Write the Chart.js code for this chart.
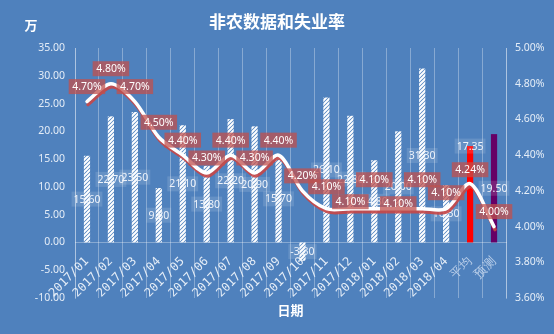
<!DOCTYPE html>
<html>
<head>
<meta charset="utf-8">
<title>非农数据和失业率</title>
<script src="https://cdn.jsdelivr.net/npm/chart.js@4.4.1/dist/chart.umd.min.js"></script>
<style>
  html, body { margin: 0; padding: 0; background: #4f81bd; }
  #wrap { width: 554px; height: 334px; }
</style>
</head>
<body>
<div id="wrap"><canvas id="nfp_chart" width="554" height="334"></canvas></div>
<script>
// months plus the two summary columns
const months = ['2017/01', '2017/02', '2017/03', '2017/04', '2017/05', '2017/06',
  '2017/07', '2017/08', '2017/09', '2017/10', '2017/11', '2017/12',
  '2018/01', '2018/02', '2018/03', '2018/04', '平均', '预测'];

// non-farm payrolls, 万
const payrolls = [15.60, 22.70, 23.50, 9.80, 21.10, 13.80, 22.20, 20.90, 15.70, -3.30,
  26.10, 22.80, 14.80, 20.00, 31.30, 10.30, 17.35, 19.50];

// unemployment rate, %
const unemployment = [4.70, 4.80, 4.70, 4.50, 4.40, 4.30, 4.40, 4.30, 4.40, 4.20,
  4.10, 4.10, 4.10, 4.10, 4.10, 4.10, 4.24, 4.00];

// left / right axis ranges
const payrollTicks = { min: -10, max: 35, step: 5 };
const rateTicks = { min: 3.6, max: 5.0, step: 0.2 };

// how far (px) each rate label sits above its point, staggered where they crowd
const rateLabelLift = [15, 15, 15, 15, 15, 15, 15, 15, 15, 15, 22, 7, 29, 5, 29, 16, 14, 15];

// columns whose value label sits on the bar top instead of the middle
const labelAtTop = ['平均'];

const FONT = '"Noto Sans", "Noto Sans CJK SC", sans-serif';
const CJK = '"Noto Sans CJK SC", "Noto Sans", sans-serif';
const GRID = 'rgba(255, 255, 255, 0.32)';
const TICK = 'rgba(236, 242, 250, 0.95)';

function hatch() {
  // white "////" stripes on a transparent tile
  const c = document.createElement('canvas');
  c.width = 4; c.height = 4;
  const g = c.getContext('2d');
  g.strokeStyle = '#ffffff';
  g.lineWidth = 2;
  g.beginPath();
  g.moveTo(-1, 5); g.lineTo(5, -1);
  g.moveTo(-1, 1); g.lineTo(1, -1);
  g.moveTo(3, 5); g.lineTo(5, 3);
  g.stroke();
  return g.createPattern(c, 'repeat');
}

const ctx = document.getElementById('nfp_chart').getContext('2d');
const stripes = hatch();
const barFill = months.map((m, i) => i === 16 ? '#ff0000' : (i === 17 ? '#660066' : stripes));

function box(g, text, cx, cy, pad, fill, color) {
  g.font = '10.5px ' + FONT;
  const w = g.measureText(text).width + pad * 2;
  const h = 15;
  g.fillStyle = fill;
  g.fillRect(cx - w / 2, cy - h / 2, w, h);
  g.fillStyle = color;
  g.textAlign = 'center';
  g.textBaseline = 'middle';
  g.fillText(text, cx, cy + 0.5);
}

const decorations = {
  id: 'decorations',
  beforeDatasetDraw(chart, args) {
    if (args.index === 1) {
      // reddish drop shadow under the rate line
      chart.ctx.save();
      chart.ctx.shadowColor = 'rgba(200, 70, 70, 0.9)';
      chart.ctx.shadowOffsetX = 1;
      chart.ctx.shadowOffsetY = 3;
      chart.ctx.shadowBlur = 0.5;
    }
  },
  afterDatasetDraw(chart, args) {
    const g = chart.ctx;
    if (args.index === 1) {
      g.restore();
      return;
    }
    // payroll value labels, centred on each bar
    g.save();
    args.meta.data.forEach((bar, i) => {
      const cy = labelAtTop.includes(months[i]) ? bar.y : (bar.y + bar.base) / 2;
      box(g, payrolls[i].toFixed(2), bar.x, cy, 2, 'rgba(255, 255, 255, 0.13)', '#eef3fa');
    });
    g.restore();
  },
  afterDatasetsDraw(chart) {
    const g = chart.ctx;
    const meta = chart.getDatasetMeta(1);
    g.save();
    meta.data.forEach((pt, i) => {
      box(g, unemployment[i].toFixed(2) + '%', pt.x, pt.y - rateLabelLift[i], 3.5, 'rgba(192, 80, 77, 0.75)', '#ffffff');
    });
    g.restore();
  },
  afterDraw(chart) {
    const g = chart.ctx;
    const area = chart.chartArea;
    g.save();
    g.fillStyle = '#ffffff';
    g.textAlign = 'center';
    g.textBaseline = 'middle';
    g.font = 'bold 17px ' + CJK;
    g.fillText('非农数据和失业率', 277, 22);
    g.font = 'bold 13px ' + CJK;
    g.fillText('万', 31, 25);
    g.fillText('日期', (area.left + area.right) / 2, 310);
    g.restore();
  }
};

const chart = new Chart(ctx, {
  type: 'bar',
  data: {
    labels: months,
    datasets: [{
      label: '非农',
      data: payrolls,
      yAxisID: 'y',
      backgroundColor: barFill,
      borderWidth: 0,
      barPercentage: 0.26,
      categoryPercentage: 1,
      order: 1
    }, {
      type: 'line',
      label: '失业率',
      data: unemployment,
      yAxisID: 'y1',
      borderColor: '#ffffff',
      borderWidth: 3.5,
      borderCapStyle: 'round',
      borderJoinStyle: 'round',
      tension: 0.3,
      pointRadius: 0,
      fill: false,
      order: 0
    }]
  },
  options: {
    responsive: false,
    devicePixelRatio: 1,
    animation: false,
    layout: { padding: { left: 0, right: 0, top: 48, bottom: 36 } },
    plugins: {
      legend: { display: false },
      tooltip: { enabled: false },
      title: { display: false }
    },
    scales: {
      x: {
        position: { y: 0 },
        offset: true,
        grid: { display: true, color: GRID, offset: true, drawTicks: false },
        border: { display: true, color: GRID },
        ticks: {
          autoSkip: false,
          minRotation: 45,
          maxRotation: 45,
          padding: 12,
          color: (c) => c.index >= 16 ? 'rgba(215, 228, 245, 0.8)' : TICK,
          font: { family: '"DejaVu Sans Mono", monospace', size: 12 }
        }
      },
      y: {
        position: 'left',
        min: payrollTicks.min,
        max: payrollTicks.max,
        grid: { display: false, drawTicks: false },
        border: { display: true, color: GRID },
        ticks: {
          stepSize: payrollTicks.step,
          padding: 10,
          color: TICK,
          font: { family: FONT, size: 10.5 },
          callback: (v) => Number(v).toFixed(2)
        },
        afterFit: (s) => { s.width = 75; }
      },
      y1: {
        position: 'right',
        min: rateTicks.min,
        max: rateTicks.max,
        grid: { display: false, drawTicks: false },
        border: { display: true, color: GRID },
        ticks: {
          stepSize: rateTicks.step,
          padding: 9,
          color: TICK,
          font: { family: FONT, size: 10.5 },
          callback: (v) => Number(v).toFixed(2) + '%'
        },
        afterFit: (s) => { s.width = 48; }
      }
    }
  },
  plugins: [decorations]
});
</script>
</body>
</html>
